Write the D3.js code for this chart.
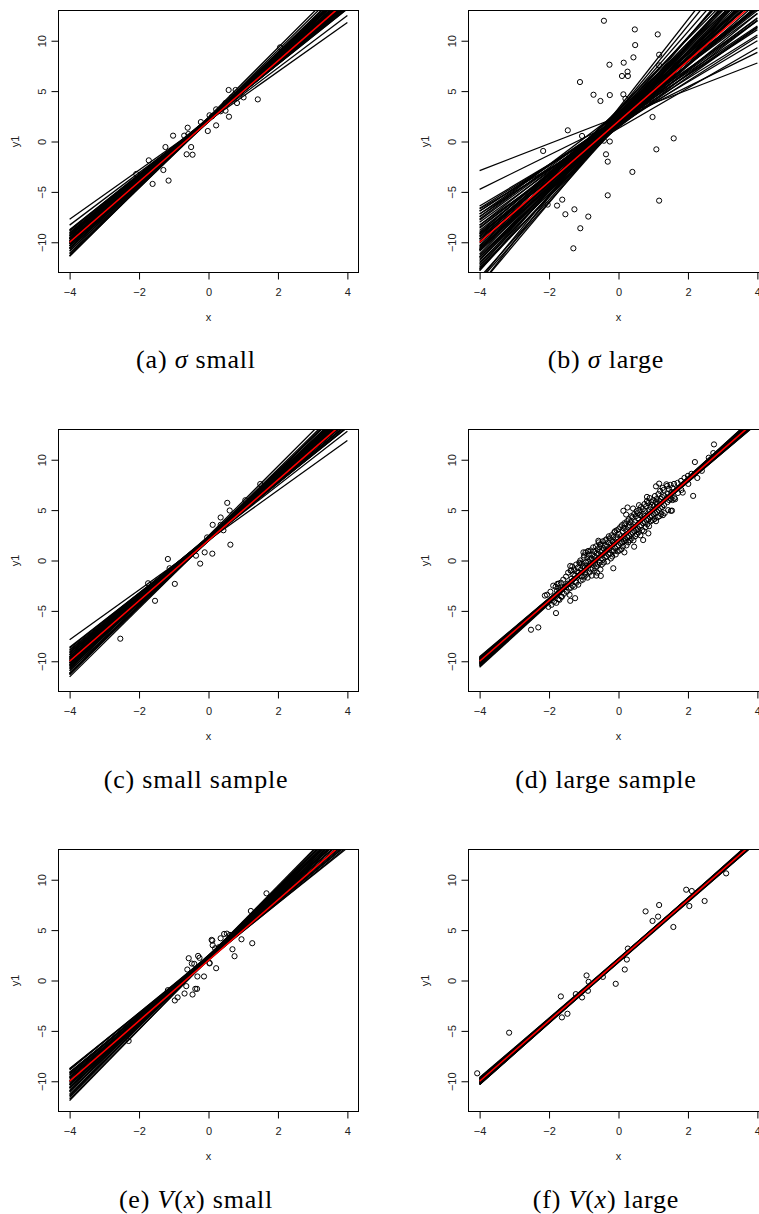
<!DOCTYPE html>
<html>
<head>
<meta charset="utf-8">
<script src="https://cdn.jsdelivr.net/npm/d3@7"></script>
<style>
body { margin: 0; background: #fff; }
.cap { font-family: "Liberation Serif", "DejaVu Serif", "Times New Roman", serif; }
.ax { font-family: "Liberation Sans", Arial, "DejaVu Sans", sans-serif; }
</style>
</head>
<body>
<script>

// axis ticks (same in every panel)
var xTicks = [-4, -2, 0, 2, 4];
var yTicks = [-10, -5, 0, 5, 10];
var xLim = [-4.32, 4.32];
var yLim = [-13, 13];
var lineFrom = -4, lineTo = 4;

// true line (red)
var trueInt = 2, trueSlope = 3;

// (a) sigma small
var ptsA = [[2.06,9.34],[0.58,5.11],[0.78,5.11],[0.67,4.38],[1.01,4.38],[1.42,4.18],[0.82,3.82],[0.49,3.82],
  [0.49,3.06],[0.59,2.46],[0.22,3.19],[0.03,2.6],[0.22,1.6],[-0.02,1.04],[-0.22,1.93],[-0.6,1.37],[-0.58,0.74],
  [-0.7,0.58],[-1.02,0.58],[-0.63,-1.27],[-0.46,-1.31],[-0.5,-0.55],[-1.24,-0.55],[-1.3,-2.83],[-1.15,-3.88],
  [-1.61,-4.21],[-1.72,-1.87],[-2.08,-3.22],[0.1,2.5],[0.35,3.0]];
var intA = [2.05,2.10,2.20,2.15,2.30,2.10,2.25,2.05,2.20,2.35,2.15,2.00,2.25,2.10,2.30,2.05,2.20,2.15,1.95,2.25,
  2.10,2.35,2.00,2.20,2.15,2.05,2.30,2.10,2.25,1.95,2.20,2.05,2.15,2.35,2.00,2.25,2.10,2.20,2.05,2.30,2.15,2.00,
  2.20,2.10,2.25,2.40];
var slopeA = [2.44,2.60,2.74,2.76,2.78,2.80,2.82,2.84,2.86,2.87,2.88,2.90,2.91,2.92,2.93,2.94,2.95,2.96,2.97,2.98,
  2.99,3.00,3.01,3.02,3.03,3.04,3.05,3.06,3.07,3.08,3.09,3.10,3.12,3.13,3.14,3.16,3.18,3.20,3.22,3.24,3.26,3.29,
  3.32,3.36,3.40,3.45];

// (b) sigma large
var ptsB = [[-0.42,11.98],[0.47,11.12],[1.13,10.63],[0.48,9.57],[1.17,8.61],[-0.26,7.62],[0.15,7.82],[1.17,7.55],
  [0.26,6.93],[0.10,6.50],[0.27,6.50],[0.43,8.35],[-1.11,5.90],[-0.72,4.64],[-0.25,4.61],[-0.52,4.02],[0.14,4.68],
  [0.20,4.25],[0.98,2.43],[-1.46,1.11],[-1.05,0.55],[-2.17,-0.94],[-0.42,0.08],[-0.25,0.0],[-0.36,-1.27],
  [-0.31,-2.0],[1.09,-0.78],[1.59,0.31],[0.40,-3.02],[-0.31,-5.34],[1.17,-5.87],[-1.62,-5.77],[-2.04,-6.26],
  [-1.77,-6.36],[-1.27,-6.73],[-1.53,-7.22],[-0.87,-7.45],[-1.10,-8.61],[-1.30,-10.60]];
var intB = [2.45,2.05,1.97,2.27,2.40,1.95,2.51,1.98,2.50,1.89,2.16,2.60,2.03,2.66,1.90,2.53,2.50,1.70,2.47,1.50,
  2.54,1.70,2.64,1.70,2.71,1.70,2.58,1.60,2.85,2.72,1.60,3.00,2.10,3.30,3.10,1.80,1.30,1.60,1.50,1.40,1.50,1.60,
  1.70,1.75,2.10,2.20,2.20,2.00,2.10,2.00,2.90,3.10,3.20,2.90,1.80,2.30,1.90,2.40,2.60,1.85];
var slopeB = [1.335,1.70,2.15,2.30,2.40,2.35,2.55,2.50,2.70,2.60,2.75,2.90,2.80,3.00,2.85,3.05,3.10,2.95,3.20,3.00,
  3.30,3.15,3.45,3.25,3.55,3.35,3.60,3.40,3.75,3.80,3.55,3.95,4.10,4.40,4.20,3.90,2.00,2.20,2.45,2.65,2.80,3.05,
  3.30,3.60,2.25,2.50,2.70,3.10,3.40,3.70,3.00,3.20,3.50,2.60,2.05,3.65,3.85,2.95,3.35,3.15];

// (c) small sample
var ptsC = [[1.49,7.59],[1.06,5.98],[0.54,5.72],[0.61,4.96],[0.35,4.27],[0.12,3.54],[0.35,3.54],[-0.04,2.29],
  [-0.11,0.81],[0.11,0.68],[0.63,1.57],[-0.24,-0.31],[-1.17,0.15],[-1.12,-0.77],[-0.97,-2.32],[-1.74,-2.26],
  [-1.54,-4.0],[-2.54,-7.76],[-0.36,0.48],[0.43,3.0]];
var intC = [2.02,2.10,2.25,2.15,2.30,2.05,2.20,2.35,2.10,1.95,2.25,2.15,2.40,2.05,2.20,2.30,2.00,2.15,2.25,2.10,
  2.35,1.95,2.20,2.05,2.30,2.15,2.00,2.25,2.10,2.40,2.05,2.20,2.30,2.15,1.95,2.25,2.10,2.35,2.00,2.20,2.15,2.30,
  2.05,2.45];
var slopeC = [2.47,2.68,2.74,2.77,2.79,2.81,2.83,2.85,2.87,2.88,2.90,2.92,2.93,2.94,2.96,2.97,2.98,3.00,3.01,3.02,
  3.03,3.04,3.05,3.06,3.07,3.08,3.10,3.11,3.12,3.13,3.15,3.16,3.18,3.20,3.22,3.24,3.26,3.28,3.31,3.34,3.36,3.38,
  3.40,3.45];

// (d) large sample
var ptsD = [[2.75,11.52],[2.73,10.66],[2.20,9.77],[2.27,8.19],[2.15,6.41],[1.85,6.74],[1.51,4.93],[1.54,4.95],
  [1.63,6.08],[1.08,7.36],[1.17,7.63],[1.38,7.56],[0.82,6.31],[0.59,5.49],[0.26,5.26],[0.42,5.16],[0.14,4.93],
  [0.22,4.56],[0.86,2.69],[0.71,2.03],[0.45,1.37],[0.17,0.81],[-0.15,-0.77],[-0.58,1.96],[-0.53,1.6],[-1.01,0.81],
  [-0.87,0.94],[-1.39,-0.54],[-1.36,-1.0],[-0.51,-1.53],[-0.64,-1.5],[-1.25,-3.74],[-1.39,-4.0],[-1.73,-3.84],
  [-1.65,-3.57],[-2.12,-3.48],[-1.8,-5.22],[-2.31,-6.64],[-2.52,-6.87],[-1.76,-2.32],[-1.73,-2.75],[-1.11,-0.28],
  [-2.06,-3.4],[-2.02,-4.6],[-1.96,-3.1],[-1.93,-4.4],[-1.88,-2.5],[-1.86,-4.1],[-1.81,-2.6],[-1.79,-4.2],
  [-1.77,-3.0],[-1.72,-2.3],[-1.70,-3.9],[-1.68,-2.9],[-1.66,-2.2],[-1.63,-3.6],[-1.59,-1.9],[-1.57,-3.3],
  [-1.55,-2.6],[-1.51,-1.6],[-1.49,-3.1],[-1.47,-2.3],[-1.45,-1.2],[-1.43,-2.8],[-1.41,-3.4],[-1.38,-1.0],
  [-1.37,-2.7],[-1.35,-1.8],[-1.33,-0.6],[-1.32,-2.5],[-1.30,-1.4],[-1.28,-0.9],[-1.27,-2.6],[-1.25,-1.5],
  [-1.24,-2.1],[-1.22,-0.4],[-1.21,-2.2],[-1.19,-1.1],[-1.17,-0.7],[-1.16,-2.4],[-1.14,-1.2],[-1.13,-0.2],
  [-1.10,0.0],[-1.09,-2.0],[-1.08,-0.9],[-1.06,-1.6],[-1.05,-0.3],[-1.03,-1.9],[-1.02,-0.6],[-1.00,0.3],
  [-0.99,0.5],[-0.98,-1.6],[-0.97,-0.7],[-0.96,-1.2],[-0.95,0.8],[-0.94,-0.2],[-0.93,-1.4],[-0.92,-0.5],
  [-0.90,0.3],[-0.89,-1.7],[-0.88,0.9],[-0.87,-0.1],[-0.85,0.6],[-0.84,-1.2],[-0.83,-0.4],[-0.82,0.1],
  [-0.80,1.0],[-0.79,-0.9],[-0.78,0.2],[-0.77,-1.5],[-0.75,0.6],[-0.74,-0.8],[-0.73,1.3],[-0.72,0.1],
  [-0.70,0.9],[-0.69,-1.0],[-0.68,0.4],[-0.67,-0.3],[-0.65,1.4],[-0.64,-0.6],[-0.63,0.7],[-0.62,-1.2],
  [-0.60,1.1],[-0.59,-0.4],[-0.58,0.6],[-0.57,1.8],[-0.55,1.3],[-0.54,-0.2],[-0.53,0.9],[-0.52,-0.9],
  [-0.50,1.6],[-0.49,0.2],[-0.48,-0.4],[-0.47,1.0],[-0.45,1.9],[-0.44,0.1],[-0.43,1.2],[-0.42,-0.2],
  [-0.40,1.5],[-0.39,0.3],[-0.38,2.0],[-0.37,0.9],[-0.35,2.1],[-0.34,0.4],[-0.33,1.4],[-0.32,-0.1],
  [-0.30,1.8],[-0.29,0.6],[-0.28,2.4],[-0.27,1.2],[-0.25,2.2],[-0.24,0.7],[-0.23,1.6],[-0.22,0.2],
  [-0.20,2.5],[-0.19,1.0],[-0.18,0.4],[-0.17,1.9],[-0.15,2.3],[-0.14,0.9],[-0.13,1.7],[-0.12,2.8],
  [-0.10,2.9],[-0.09,1.2],[-0.08,0.6],[-0.07,2.1],[-0.05,3.0],[-0.04,1.4],[-0.03,2.3],[-0.02,0.9],
  [0.00,3.1],[0.01,1.5],[0.02,2.6],[0.03,1.0],[0.05,3.3],[0.06,1.7],[0.07,2.4],[0.08,1.1],
  [0.10,3.5],[0.11,1.8],[0.12,2.9],[0.13,1.4],[0.15,3.2],[0.16,1.9],[0.17,3.7],[0.18,2.2],
  [0.20,3.6],[0.21,2.0],[0.22,3.0],[0.23,1.5],[0.25,3.9],[0.26,2.3],[0.27,3.3],[0.28,1.8],
  [0.30,4.1],[0.31,2.4],[0.32,3.5],[0.33,2.0],[0.35,3.8],[0.36,2.6],[0.37,4.4],[0.38,2.2],
  [0.40,4.3],[0.41,2.8],[0.42,3.6],[0.43,2.0],[0.45,4.6],[0.46,2.9],[0.47,3.8],[0.48,2.4],
  [0.50,4.4],[0.51,3.0],[0.52,4.9],[0.53,2.6],[0.55,4.7],[0.56,3.1],[0.57,4.2],[0.58,2.8],
  [0.60,5.0],[0.61,3.4],[0.62,4.5],[0.63,2.5],[0.65,5.3],[0.66,3.5],[0.67,4.4],[0.68,3.0],
  [0.70,5.1],[0.71,3.7],[0.72,4.6],[0.73,2.9],[0.75,5.6],[0.76,3.8],[0.77,4.9],[0.78,3.3],
  [0.80,5.4],[0.81,4.0],[0.82,5.9],[0.83,3.6],[0.85,5.7],[0.86,4.1],[0.87,5.0],[0.88,3.4],
  [0.90,6.2],[0.91,4.3],[0.92,5.3],[0.93,3.9],[0.95,5.8],[0.96,4.4],[0.97,5.5],[0.98,4.0],
  [1.00,6.0],[1.01,4.6],[1.02,5.4],[1.03,4.1],[1.05,6.4],[1.06,4.7],[1.07,5.8],[1.08,3.9],
  [1.10,6.1],[1.11,4.8],[1.12,5.6],[1.13,4.3],[1.15,6.6],[1.16,5.0],[1.17,5.9],[1.18,4.4],
  [1.20,6.9],[1.21,5.2],[1.22,6.1],[1.23,4.6],[1.25,6.3],[1.26,5.3],[1.27,7.2],[1.28,4.5],
  [1.30,7.0],[1.31,5.5],[1.32,6.4],[1.33,4.7],[1.40,7.4],[1.41,5.8],[1.42,6.6],[1.43,5.0],
  [1.45,7.1],[1.46,6.0],[1.50,7.5],[1.51,6.1],[1.52,6.8],[1.55,7.2],[1.56,6.0],[1.60,7.6],
  [1.61,6.2],[1.70,7.7],[1.71,6.7],[1.80,7.9],[1.81,7.0],[1.90,8.2],[2.00,8.4],[2.01,7.6],
  [2.10,8.6],[2.40,8.9],[2.60,10.2]];
var intD = [2.00,1.95,2.08,1.90,2.05,2.12,1.97,2.03,1.88,2.10,2.00,1.93,2.06,2.15,1.98,2.02,1.92,2.09,2.04,1.96,
  2.11,1.99,2.07,1.94,2.01,2.13,1.91,2.05,1.97,2.08];
var slopeD = [2.98,3.05,2.93,3.02,3.09,2.96,3.00,3.12,2.95,3.04,2.90,3.07,2.99,3.01,3.10,2.94,3.03,2.97,3.06,2.92,
  3.08,3.00,2.96,3.11,3.02,2.95,3.05,2.99,3.14,2.91];

// (e) V(x) small
var ptsE = [[1.67,8.65],[1.22,6.90],[0.98,5.38],[1.26,3.70],[0.95,4.09],[0.75,2.41],[0.69,3.10],[0.83,4.75],
  [0.62,4.52],[0.53,4.65],[0.45,4.62],[0.35,4.19],[0.30,3.30],[0.19,3.20],[0.09,4.03],[0.12,3.50],[0.11,3.96],
  [0.03,1.75],[0.22,1.22],[-0.13,0.40],[-0.32,0.40],[-0.26,2.25],[-0.30,2.44],[-0.57,2.21],[-0.41,1.65],
  [-0.61,1.09],[-0.48,1.68],[-0.64,-0.56],[-0.38,-0.83],[-0.33,-0.83],[-0.46,-1.39],[-0.69,-1.29],[-0.89,-1.68],
  [-0.97,-1.98],[-1.17,-0.96],[-2.30,-6.0],[0.03,1.7]];
var intE = [2.20,2.35,2.10,2.45,2.25,2.05,2.40,2.30,2.15,2.50,2.20,2.35,2.00,2.25,2.45,2.10,2.30,2.40,2.15,2.20,
  2.35,2.05,2.25,2.50,2.30,2.10,2.40,2.20,2.35,2.15,2.45,2.25,2.30,2.10,2.40,2.20];
var slopeE = [2.74,2.78,2.80,2.83,2.85,2.87,2.89,2.91,2.93,2.95,2.97,2.99,3.00,3.02,3.04,3.06,3.08,3.10,3.12,3.14,
  3.16,3.18,3.20,3.22,3.24,3.26,3.28,3.30,3.32,3.35,3.38,3.41,3.44,3.47,3.50,3.53];

// (f) V(x) large
var ptsF = [[-4.07,-9.21],[-3.15,-5.18],[-1.66,-1.58],[-1.63,-3.66],[-1.47,-3.30],[-1.23,-1.35],[-1.05,-1.68],
  [-0.92,0.50],[-0.86,-0.13],[-0.88,-1.02],[-0.45,0.36],[-0.08,-0.33],[0.18,1.09],[0.24,2.08],[0.27,3.17],
  [0.78,6.86],[0.98,5.91],[1.14,6.34],[1.17,7.49],[1.58,5.31],[1.95,9.01],[2.11,8.88],[2.04,7.39],[2.48,7.89],
  [3.10,10.63]];
var intF = [2.00,1.85,2.15,1.92,2.08,1.80,2.20,1.95,2.05,1.88,2.12,1.98,2.03,1.90,2.18,1.83,2.10,1.96,2.02,2.14,
  1.87,2.06,1.94,2.16,1.99];
var slopeF = [3.00,2.98,3.03,2.96,3.05,2.99,2.97,3.07,2.94,3.02,3.01,3.06,2.95,3.04,2.99,3.03,2.93,3.00,3.08,2.98,
  3.05,2.96,3.02,3.01,2.97];

// captions, [text, italic]
var captions = [
  [["(a) ", 0], ["\u03c3", 1], [" small", 0]],
  [["(b) ", 0], ["\u03c3", 1], [" large", 0]],
  [["(c) small sample", 0]],
  [["(d) large sample", 0]],
  [["(e) ", 0], ["V", 1], ["(", 0], ["x", 1], [")", 0], [" small", 0]],
  [["(f) ", 0], ["V", 1], ["(", 0], ["x", 1], [")", 0], [" large", 0]]
];

var panels = [
  { pts: ptsA, ints: intA, slopes: slopeA },
  { pts: ptsB, ints: intB, slopes: slopeB },
  { pts: ptsC, ints: intC, slopes: slopeC },
  { pts: ptsD, ints: intD, slopes: slopeD },
  { pts: ptsE, ints: intE, slopes: slopeE },
  { pts: ptsF, ints: intF, slopes: slopeF }
];

// layout
var W = 300, H = 262;
var colX = [58.5, 468.5];
var rowY = [10.5, 429.5, 849.5];
var capX = [196, 606];
var capY = [368, 788, 1208];

var svg = d3.select("body").append("svg")
  .attr("width", 759)
  .attr("height", 1214)
  .style("display", "block");

svg.append("rect").attr("width", 759).attr("height", 1214).attr("fill", "#fff");

var x = d3.scaleLinear().domain(xLim).range([0, W]);
var y = d3.scaleLinear().domain(yLim).range([H, 0]);

panels.forEach(function(p, i) {
  var col = i % 2, row = Math.floor(i / 2);
  var g = svg.append("g")
    .attr("transform", "translate(" + colX[col] + "," + rowY[row] + ")");

  g.append("clipPath").attr("id", "clip" + i)
    .append("rect").attr("width", W).attr("height", H);

  var plot = g.append("g").attr("clip-path", "url(#clip" + i + ")");

  plot.selectAll("circle")
    .data(p.pts)
    .enter()
    .append("circle")
    .attr("cx", function(d) { return x(d[0]); })
    .attr("cy", function(d) { return y(d[1]); })
    .attr("r", 2.6)
    .attr("fill", "none")
    .attr("stroke", "#000")
    .attr("stroke-width", 1);

  var n = Math.min(p.ints.length, p.slopes.length);
  plot.selectAll("line.fit")
    .data(d3.range(n))
    .enter()
    .append("line")
    .attr("class", "fit")
    .attr("x1", x(lineFrom))
    .attr("x2", x(lineTo))
    .attr("y1", function(k) { return y(p.ints[k] + p.slopes[k] * lineFrom); })
    .attr("y2", function(k) { return y(p.ints[k] + p.slopes[k] * lineTo); })
    .attr("stroke", "#000")
    .attr("stroke-width", 1.3);

  plot.append("line")
    .attr("x1", x(lineFrom))
    .attr("x2", x(lineTo))
    .attr("y1", y(trueInt + trueSlope * lineFrom))
    .attr("y2", y(trueInt + trueSlope * lineTo))
    .attr("stroke", "#ff0000")
    .attr("stroke-width", 1.6);

  g.append("rect")
    .attr("width", W)
    .attr("height", H)
    .attr("fill", "none")
    .attr("stroke", "#000")
    .attr("stroke-width", 1);

  var xa = g.append("g")
    .attr("transform", "translate(0," + H + ")")
    .call(d3.axisBottom(x).tickValues(xTicks).tickSize(7).tickPadding(9));
  xa.select(".domain").remove();
  xa.attr("font-family", null).attr("font-size", 11).attr("class", "ax");
  xa.selectAll("text").attr("fill", "#222");

  var ya = g.append("g")
    .call(d3.axisLeft(y).tickValues(yTicks).tickSize(7));
  ya.select(".domain").remove();
  ya.attr("font-family", null).attr("font-size", 11).attr("class", "ax");
  ya.selectAll("text")
    .attr("x", null)
    .attr("dy", null)
    .attr("fill", "#222")
    .attr("text-anchor", "middle")
    .attr("transform", "translate(-13,0) rotate(-90)");

  g.append("text")
    .attr("class", "ax")
    .attr("x", W / 2)
    .attr("y", H + 48)
    .attr("text-anchor", "middle")
    .attr("font-size", 11)
    .attr("fill", "#222")
    .text("x");

  g.append("text")
    .attr("class", "ax")
    .attr("transform", "translate(-39.5," + (H / 2) + ") rotate(-90)")
    .attr("text-anchor", "middle")
    .attr("font-size", 11)
    .attr("fill", "#222")
    .text("y1");

  var cap = svg.append("text")
    .attr("class", "cap")
    .attr("x", capX[col])
    .attr("y", capY[row])
    .attr("text-anchor", "middle")
    .attr("font-size", 26)
    .attr("letter-spacing", 0.8)
    .style("white-space", "pre")
    .attr("fill", "#000");
  cap.selectAll("tspan")
    .data(captions[i])
    .enter()
    .append("tspan")
    .attr("font-style", function(d) { return d[1] ? "italic" : "normal"; })
    .text(function(d) { return d[0]; });
});

</script>
</body>
</html>
